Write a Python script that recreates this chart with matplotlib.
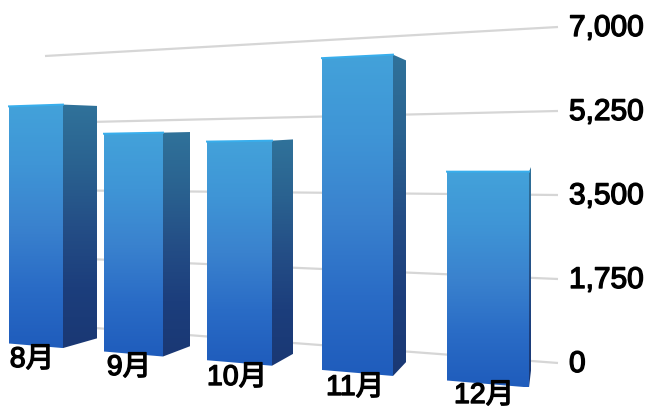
import numpy as np
import matplotlib
matplotlib.use("Agg")
import matplotlib.pyplot as plt
from matplotlib.colors import LinearSegmentedColormap
from matplotlib.patches import Polygon
import matplotlib.patheffects as pe

# ---- data ----
months = ["8月", "9月", "10月", "11月", "12月"]
values = [5860, 5140, 4920, 6670, 4240]
axis_ticks = [0, 1750, 3500, 5250, 7000]
axis_labels = ["0", "1,750", "3,500", "5,250", "7,000"]

# ---- layout (pixel space of the perspective scene) ----
VMAX = 7000
front_left = [9, 104, 207, 322, 447]
front_right = [63, 163, 272, 393, 529]
back_right = [97, 190, 293, 406, 531]
label_x = [32, 129, 237, 355, 484]
label_y = [361, 369, 379, 389, 397]
VP_BOTTOM = (550, 210)
VP_TOP = (550, 125)


def wall_y(v, x):
    base = 329 + (x - 95) * 35 / 463
    top = 57 + (x - 45) * (28 - 57) / 513
    return base + (v / VMAX) * (top - base)


def front_y(v, x):
    base = 344.5 + 0.0845 * (x - 9)
    height = 282 + 0.1405 * x
    return base - (v / VMAX) * height


def back_y(y, xf, xb, vp):
    t = (xb - xf) / (vp[0] - xf)
    return y + t * (vp[1] - y)


front_cmap = LinearSegmentedColormap.from_list(
    "front", ["#43A2DA", "#3F95D6", "#3A82CE", "#2A6CC6", "#1F5CBC"])
side_cmap = LinearSegmentedColormap.from_list(
    "side", ["#30729A", "#2A6290", "#244E86", "#1C3E7C", "#1A3874"])
gradient = np.linspace(0, 1, 256).reshape(-1, 1)

plt.rcParams["font.family"] = ["Liberation Sans", "Noto Sans CJK JP", "DejaVu Sans"]
fig = plt.figure(figsize=(6.5, 4.1), dpi=100)
ax = fig.add_axes([0, 0, 1, 1])
ax.set_xlim(0, 650)
ax.set_ylim(410, 0)
ax.axis("off")
ax.set_autoscale_on(False)

# wall gridlines
gx = np.array([45, 558])
for v in axis_ticks:
    ax.plot(gx, [wall_y(v, gx[0]), wall_y(v, gx[1])], color="#d6d6d6", lw=1.6,
            zorder=1, solid_capstyle="butt")


def shaded(poly, cmap, z):
    pts = np.array(poly)
    ext = [pts[:, 0].min(), pts[:, 0].max(), pts[:, 1].max(), pts[:, 1].min()]
    im = ax.imshow(gradient, cmap=cmap, extent=ext, aspect="auto", zorder=z,
                   interpolation="bilinear")
    patch = Polygon(pts, closed=True, transform=ax.transData, fc="none", ec="none")
    ax.add_patch(patch)
    im.set_clip_path(patch)


for i, v in enumerate(values):
    xl, xr, xb = front_left[i], front_right[i], back_right[i]
    tl, tr = front_y(v, xl), front_y(v, xr)
    bl, br = front_y(0, xl), front_y(0, xr)
    btop = back_y(tr, xr, xb, VP_TOP)
    bbot = back_y(br, xr, xb, VP_BOTTOM)
    z = 3 + i
    shaded([(xr, tr), (xb, btop), (xb, bbot), (xr, br)], side_cmap, z)
    shaded([(xl, tl), (xr, tr), (xr, br), (xl, bl)], front_cmap, z + 0.1)
    ax.plot([xl, xr], [tl, tr], color="#38AEEC", lw=1.4, zorder=z + 0.2)

# value axis labels
for v, s in zip(axis_ticks, axis_labels):
    ax.text(569, wall_y(v, 558) + 1, s, fontsize=21.5, color="black", ha="left", va="center",
            zorder=20, path_effects=[pe.withStroke(linewidth=1.0, foreground="black")])

# month labels
for s, x, y in zip(months, label_x, label_y):
    ax.text(x, y, s, fontsize=20.5, color="black", ha="center", va="center", zorder=20,
            path_effects=[pe.withStroke(linewidth=1.0, foreground="black")])

fig.savefig("out.png", dpi=100)
